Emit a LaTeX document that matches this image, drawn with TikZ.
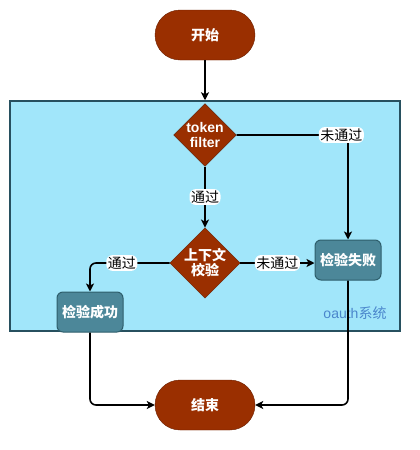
\documentclass[tikz,border=0pt]{standalone}
\usepackage{fontspec}
\setmainfont{Liberation Sans}
\newfontfamily\cjk{Noto Sans CJK SC}
\usetikzlibrary{arrows.meta,shapes.geometric}
\definecolor{termfill}{HTML}{9A2F00}
\definecolor{termline}{HTML}{6A1F00}
\definecolor{boxfill}{HTML}{4C8799}
\definecolor{boxline}{HTML}{2E5E6C}
\definecolor{sysfill}{HTML}{A1E6FA}
\definecolor{sysline}{HTML}{27505F}
\definecolor{systext}{HTML}{4A86CC}

\begin{document}
\begin{tikzpicture}[
  x=1pt, y=-1pt,
  terminal/.style={draw=termline, fill=termfill, rounded corners=25pt, minimum width=100pt, minimum height=50pt, align=center, text=white, font=\fontsize{14}{15}\selectfont\bfseries\cjk},
  decision/.style={draw=termline, fill=termfill, diamond, aspect=1, minimum size=61pt, inner sep=0pt, align=center, text=white, font=\fontsize{14}{15}\selectfont\bfseries},
  result/.style={draw=boxline, fill=boxfill, rounded corners=6pt, minimum width=66pt, minimum height=40pt, align=center, text=white, line width=1pt, font=\fontsize{14}{15}\selectfont\bfseries\cjk},
  edgelabel/.style={fill=white, inner sep=1.5pt, text=black, font=\fontsize{14}{15}\selectfont\cjk},
  arrow/.style={-{Stealth[length=8pt, width=8pt, inset=2pt]}, line width=1.6pt, rounded corners=6pt},
  >=Stealth
]
\useasboundingbox (0,0) rectangle (420,450);

% System frame
\node[draw=sysline, fill=sysfill, line width=1.5pt, minimum width=390pt, minimum height=230pt, inner sep=0pt] (oauth) at (205,216) {};
\node[font=\fontsize{14}{15}\selectfont, text=systext] (oauthlbl) at (355,313) {oauth{\cjk 系统}};

% Start / end
\node[terminal] (start) at (205,35) {开始};
\node[terminal] (finish) at (205,405) {结束};

% Checks
\node[decision] (token) at (205,135) {token\\filter};
\node[decision] (context) at (205,263) {\cjk 上下文\\\cjk 校验};

% Results
\node[result] (fail) at (348,260) {检验失败};
\node[result] (ok) at (90,312) {检验成功};

% Arrows
\draw[arrow] (start) -- (oauth.north);
\draw[arrow] (token) -- node[edgelabel] {通过} (context);
\draw[arrow] (token.east) -| node[edgelabel, pos=0.47] {未通过} (fail.north);
\draw[arrow] (context.east) -- node[edgelabel] {未通过} (fail.west |- context.east);
\draw[arrow] (context.west) -| node[edgelabel, pos=0.3] {通过} (ok.north);
\draw[arrow] (ok.south) |- (finish.west);
\draw[arrow] (fail.south) |- (finish.east);

\end{tikzpicture}
\end{document}
